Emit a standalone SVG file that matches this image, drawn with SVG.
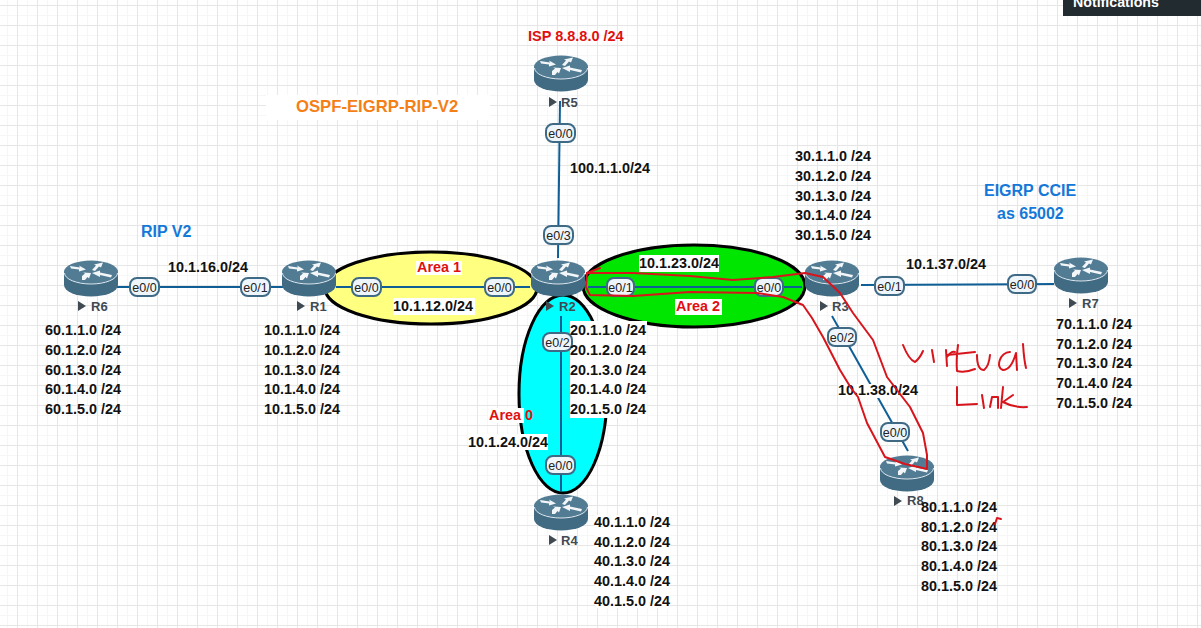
<svg xmlns="http://www.w3.org/2000/svg" xmlns:xlink="http://www.w3.org/1999/xlink" width="1201" height="628" viewBox="0 0 1201 628">
<style>
text{font-family:"Liberation Sans",Arial,sans-serif}
.b{font-size:14.4px;font-weight:700;fill:#111}
.bg{fill:#fff}
.l{stroke:#0f5f96;stroke-width:2;fill:none}
.pr rect{fill:#eef6fb;stroke:#3f6a86;stroke-width:2}
.pr text{font-size:12.5px;fill:#222;text-anchor:middle}
.rn{font-size:13px;font-weight:700;fill:#3f4a52}
.ink{stroke:#d8141c;stroke-width:2;fill:none;stroke-linecap:round;stroke-linejoin:round}
.ar{fill:#f2f6f8}
</style>
<defs>
<pattern id="g" width="20" height="20" patternUnits="userSpaceOnUse" x="-3" y="5">
<path d="M10.500 0V20M0 10.500H20" stroke="#f6f6f6" stroke-width="1" fill="none"/>
<path d="M0.500 0V20M0 0.500H20" stroke="#e6e6e6" stroke-width="1" fill="none"/>
</pattern>
<g id="router">
<path d="M-27 -6V7A27 11.500 0 0 0 27 7V-6Z" fill="#416a83"/>
<ellipse cx="0" cy="-6" rx="27" ry="11.500" fill="#527b94"/>
<path d="M-26.500 -5A26.500 11 0 0 0 26.500 -5" fill="none" stroke="#dfe9ef" stroke-width="1"/>
<path class="ar" d="M-21 -12L-11 -10.500L-12 -12.500L-5 -8.500L-12 -6.500L-12 -8.500L-20 -9.500Z"/>
<path class="ar" d="M1 -8L5 -12.500L3 -13.500L12 -15.500L10 -10.500L8 -11.500L4 -7Z"/>
<path class="ar" d="M20 -0.500L9 -3L9 -1L1 -5L9 -7.500L9 -5.500L21 -3Z"/>
<path class="ar" d="M-9 -3L-6 -5.500L-8 -6.500L0 -6L-2 -0.500L-3.500 -2L-6 1L-9 1Z" transform="translate(0 1)"/>
</g>
<g id="tri"><path d="M0 -5L8 0L0 5Z" fill="#3f4a52"/></g>
</defs>
<rect width="1201" height="628" fill="#fff"/>
<rect width="1201" height="628" fill="url(#g)"/>
<rect x="1063" y="0" width="138" height="16" fill="#212b30"/>
<text x="1073" y="7" font-size="14.200" font-weight="700" fill="#fff">Notifications</text>

<g id="areas" stroke="#000" stroke-width="3">
<ellipse cx="431" cy="288" rx="106" ry="36" fill="#ffff80"/>
<ellipse cx="563" cy="394" rx="44" ry="99" fill="#00ffff"/>
<ellipse cx="694" cy="286" rx="111" ry="41" fill="#00e600"/>
</g>

<g id="connectors">
<path class="l" d="M117 287H283"/>
<path class="l" d="M336 287H530"/>
<path class="l" d="M588 287H802"/>
<path class="l" d="M560 101L558 258"/>
<path class="l" d="M561 316V491"/>
<path class="l" d="M861 285L1054 284"/>
<path class="l" d="M832 316L908 451"/>
</g>

<rect class="bg" x="266" y="95" width="224" height="25"/>
<rect class="bg" x="416" y="261" width="46" height="14"/>
<rect class="bg" x="393" y="298" width="82" height="17"/>
<rect class="bg" x="639" y="255" width="80" height="17"/>
<rect class="bg" x="675" y="299" width="47" height="16"/>
<rect class="bg" x="570" y="321" width="77" height="97"/>
<rect class="bg" x="488" y="408" width="36" height="15"/>
<rect class="bg" x="468" y="434" width="80" height="16"/>
<rect class="bg" x="838" y="384" width="78" height="14"/>
<rect class="bg" x="595" y="515" width="75" height="93"/>

<g id="R5"><use xlink:href="#router" x="561" y="73"/><use xlink:href="#tri" x="549" y="102"/><text class="rn" x="561" y="107">R5</text></g>
<g id="R6"><use xlink:href="#router" x="91" y="278"/><use xlink:href="#tri" x="78" y="306"/><text class="rn" x="91" y="311">R6</text></g>
<g id="R1"><use xlink:href="#router" x="309" y="278"/><use xlink:href="#tri" x="297" y="306"/><text class="rn" x="310" y="311">R1</text></g>
<g id="R2"><use xlink:href="#router" x="558" y="278"/><use xlink:href="#tri" x="546" y="306"/><text class="rn" x="559" y="311">R2</text></g>
<g id="R3"><use xlink:href="#router" x="832" y="278"/><use xlink:href="#tri" x="820" y="306"/><text class="rn" x="832" y="311">R3</text></g>
<g id="R7"><use xlink:href="#router" x="1081" y="275"/><use xlink:href="#tri" x="1069" y="303"/><text class="rn" x="1082" y="308">R7</text></g>
<g id="R4"><use xlink:href="#router" x="561" y="512"/><use xlink:href="#tri" x="549" y="540"/><text class="rn" x="561" y="545">R4</text></g>
<g id="R8"><use xlink:href="#router" x="907" y="473"/><use xlink:href="#tri" x="894" y="501"/><text class="rn" x="907" y="505">R8</text></g>

<g id="ports" class="pr">
<g><rect x="546" y="124" width="29" height="18" rx="7"/><text x="560.500" y="138">e0/0</text></g>
<g><rect x="544" y="226" width="29" height="18" rx="7"/><text x="558.500" y="240">e0/3</text></g>
<g><rect x="130" y="278" width="29" height="18" rx="7"/><text x="144.500" y="292">e0/0</text></g>
<g><rect x="241" y="278" width="29" height="18" rx="7"/><text x="255.500" y="292">e0/1</text></g>
<g><rect x="352" y="278" width="29" height="18" rx="7"/><text x="366.500" y="292">e0/0</text></g>
<g><rect x="485" y="278" width="29" height="18" rx="7"/><text x="499.500" y="292">e0/0</text></g>
<g><rect x="607" y="278" width="27" height="18" rx="7"/><text x="620.500" y="292">e0/1</text></g>
<g><rect x="755" y="278" width="28" height="18" rx="7"/><text x="769" y="292">e0/0</text></g>
<g><rect x="875" y="277" width="29" height="18" rx="7"/><text x="889.500" y="291">e0/1</text></g>
<g><rect x="1008" y="275" width="28" height="18" rx="7"/><text x="1022" y="289">e0/0</text></g>
<g><rect x="828" y="328" width="28" height="18" rx="7"/><text x="842" y="342">e0/2</text></g>
<g><rect x="881" y="423" width="28" height="18" rx="7"/><text x="895" y="437">e0/0</text></g>
<g><rect x="543" y="333" width="29" height="18" rx="7"/><text x="557.500" y="347">e0/2</text></g>
<g><rect x="546" y="456" width="29" height="18" rx="7"/><text x="560.500" y="470">e0/0</text></g>
</g>

<g id="labels" class="b">
<text x="296" y="112" style="fill:#f57f17;font-size:16.700px">OSPF-EIGRP-RIP-V2</text>
<text x="528" y="41" style="fill:#e01010;font-size:14.500px">ISP 8.8.8.0 /24</text>
<text x="570" y="173">100.1.1.0/24</text>
<text x="141" y="237" style="fill:#1478d8;font-size:16px">RIP V2</text>
<text x="984" y="196" style="fill:#1478d8;font-size:16px">EIGRP CCIE</text>
<text x="997" y="219" style="fill:#1478d8;font-size:16px">as 65002</text>
<text x="168" y="272">10.1.16.0/24</text>
<text x="417" y="272" style="fill:#e01010">Area 1</text>
<text x="393" y="311">10.1.12.0/24</text>
<text x="639" y="268">10.1.23.0/24</text>
<text x="676" y="311" style="fill:#e01010">Area 2</text>
<text x="906" y="269">10.1.37.0/24</text>
<text x="838" y="395">10.1.38.0/24</text>
<text x="489" y="420" style="fill:#e01010">Area 0</text>
<text x="468" y="447">10.1.24.0/24</text>
<g id="n3"><text x="795" y="161">30.1.1.0 /24</text><text x="795" y="181">30.1.2.0 /24</text><text x="795" y="201">30.1.3.0 /24</text><text x="795" y="220">30.1.4.0 /24</text><text x="795" y="240">30.1.5.0 /24</text></g>
<g id="n6"><text x="45" y="335">60.1.1.0 /24</text><text x="45" y="355">60.1.2.0 /24</text><text x="45" y="375">60.1.3.0 /24</text><text x="45" y="394">60.1.4.0 /24</text><text x="45" y="414">60.1.5.0 /24</text></g>
<g id="n1"><text x="264" y="335">10.1.1.0 /24</text><text x="264" y="355">10.1.2.0 /24</text><text x="264" y="375">10.1.3.0 /24</text><text x="264" y="394">10.1.4.0 /24</text><text x="264" y="414">10.1.5.0 /24</text></g>
<g id="n2"><text x="570" y="335">20.1.1.0 /24</text><text x="570" y="355">20.1.2.0 /24</text><text x="570" y="375">20.1.3.0 /24</text><text x="570" y="394">20.1.4.0 /24</text><text x="570" y="414">20.1.5.0 /24</text></g>
<g id="n7"><text x="1056" y="329">70.1.1.0 /24</text><text x="1056" y="349">70.1.2.0 /24</text><text x="1056" y="368">70.1.3.0 /24</text><text x="1056" y="388">70.1.4.0 /24</text><text x="1056" y="408">70.1.5.0 /24</text></g>
<g id="n4"><text x="594" y="527">40.1.1.0 /24</text><text x="594" y="547">40.1.2.0 /24</text><text x="594" y="566">40.1.3.0 /24</text><text x="594" y="586">40.1.4.0 /24</text><text x="594" y="606">40.1.5.0 /24</text></g>
<g id="n8"><text x="921" y="512">80.1.1.0 /24</text><text x="921" y="532">80.1.2.0 /24</text><text x="921" y="551">80.1.3.0 /24</text><text x="921" y="571">80.1.4.0 /24</text><text x="921" y="591">80.1.5.0 /24</text></g>
</g>

<g id="ink" class="ink">
<path d="M600 268L587 273L586 287L590 295L633 296L690 292L757 293L783 297L803 305L812 318L823 337L840 370L851 388L858 397L867 423L885 457L905 464L927 469"/>
<path d="M587 273L633 273L690 276L733 280L773 277L805 273L823 277L840 293L853 313L873 340L887 377L910 407L923 433L927 455L927 468"/>
<path d="M903 345Q909 360 915 362Q920 358 923 351"/>
<path d="M932 350L934 362"/>
<path d="M946 350L947 366M947 357Q951 351 955 352"/>
<path d="M958 345Q956 360 957 371Q965 373 975 369M947 355L975 352"/>
<path d="M977 355Q977 370 984 370Q989 366 990 355"/>
<path d="M1010 352C1000 352 995 368 1003 370C1010 370 1014 360 1016 353L1017 370"/>
<path d="M1023 344Q1024 360 1026 368"/>
<path d="M957 387L957 405L977 404"/>
<path d="M982 395L984 408"/>
<path d="M990 407L992 397L998 397L998 408"/>
<path d="M1003 387L1001 408M1013 395L1003 402Q1014 408 1027 407"/>
<path d="M995 524L997 518L1001 519"/>
</g>
</svg>
